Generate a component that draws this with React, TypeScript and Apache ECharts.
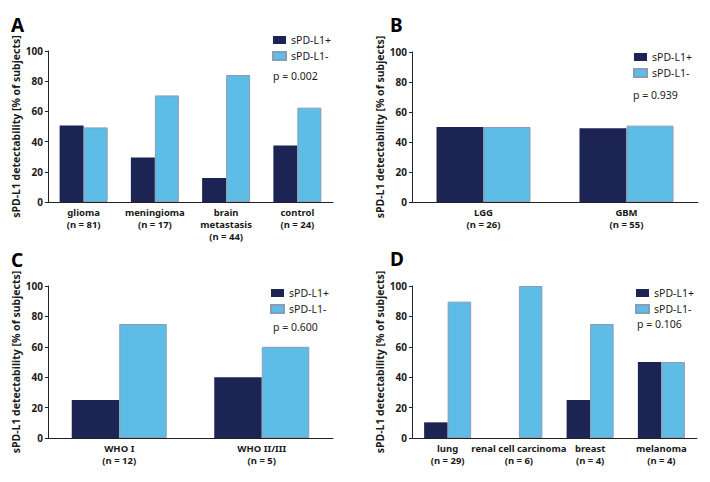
import React, { useEffect, useRef } from "react";
import * as echarts from "echarts";

const seriesNames = ["sPD-L1+", "sPD-L1-"];
const yTicks = { min: 0, max: 100, interval: 20 };
const yAxisTitle = "sPD-L1 detectability [% of subjects]";

const categoriesA = ["glioma\n(n = 81)", "meningioma\n(n = 17)", "brain\nmetastasis\n(n = 44)", "control\n(n = 24)"];
const posA = [50.6, 29.4, 15.9, 37.5];
const negA = [49.4, 70.6, 84.1, 62.5];
const pA = "p = 0.002";

const categoriesB = ["LGG\n(n = 26)", "GBM\n(n = 55)"];
const posB = [50, 49.1];
const negB = [50, 50.9];
const pB = "p = 0.939";

const categoriesC = ["WHO I\n(n = 12)", "WHO II/III\n(n = 5)"];
const posC = [25, 40];
const negC = [75, 60];
const pC = "p = 0.600";

const categoriesD = ["lung\n(n = 29)", "renal cell carcinoma\n(n = 6)", "breast\n(n = 4)", "melanoma\n(n = 4)"];
const posD = [10.3, 0, 25, 50];
const negD = [89.7, 100, 75, 50];
const pD = "p = 0.106";

const DARK = "#1b2452";
const LIGHT = "#5dbde6";
const FONT = "Noto Sans";

const panels = [
  { letter: "A", cats: categoriesA, pos: posA, neg: negA, p: pA, grid: { left: 48, top: 51, width: 285, height: 151 }, bw: 24,
    letterPos: [11, 27], legend: { left: 272, top: 34 }, pPos: [273, 77] },
  { letter: "B", cats: categoriesB, pos: posB, neg: negB, p: pB, grid: { left: 412, top: 52, width: 286, height: 150 }, bw: 47,
    letterPos: [390, 27], legend: { left: 633, top: 51 }, pPos: [633, 96] },
  { letter: "C", cats: categoriesC, pos: posC, neg: negC, p: pC, grid: { left: 48, top: 286, width: 285, height: 152 }, bw: 47.5,
    letterPos: [11, 262], legend: { left: 270, top: 287 }, pPos: [273, 328] },
  { letter: "D", cats: categoriesD, pos: posD, neg: negD, p: pD, grid: { left: 412, top: 286, width: 285, height: 152 }, bw: 23.5,
    letterPos: [390, 261], legend: { left: 635, top: 287 }, pPos: [637, 325] },
];

export default function App() {
  const ref = useRef<HTMLDivElement>(null);
  useEffect(() => {
    document.body.style.margin = "0";
    const chart = echarts.init(ref.current!, null, { renderer: "svg" });
    const grid: any[] = [];
    const xAxis: any[] = [];
    const yAxis: any[] = [];
    const series: any[] = [];
    const legend: any[] = [];
    const graphic: any[] = [];
    panels.forEach((pn, i) => {
      grid.push({ ...pn.grid, containLabel: false });
      xAxis.push({
        type: "category", gridIndex: i, data: pn.cats,
        axisLine: { lineStyle: { color: "#222", width: 1 } },
        axisTick: { show: false },
        axisLabel: { color: "#1a1a1a", fontFamily: FONT, fontWeight: "bold", fontSize: 9.5, lineHeight: 12, margin: 4, interval: 0 },
      });
      yAxis.push({
        type: "value", gridIndex: i, min: yTicks.min, max: yTicks.max, interval: yTicks.interval,
        name: yAxisTitle, nameLocation: "middle", nameGap: 26, nameRotate: 90,
        nameTextStyle: { color: "#1a1a1a", fontFamily: FONT, fontWeight: "bold", fontSize: 10.5 },
        axisLine: { show: true, lineStyle: { color: "#222", width: 1 } },
        axisTick: { show: true, length: 3, lineStyle: { color: "#222" } },
        splitLine: { show: false },
        axisLabel: { color: "#1a1a1a", fontFamily: FONT, fontWeight: "bold", fontSize: 10, margin: 5 },
      });
      series.push({
        type: "bar", name: seriesNames[0], xAxisIndex: i, yAxisIndex: i, data: pn.pos, barWidth: pn.bw, barGap: "0%",
        itemStyle: { color: DARK, borderWidth: 0 },
      });
      series.push({
        type: "bar", name: seriesNames[1], xAxisIndex: i, yAxisIndex: i, data: pn.neg, barWidth: pn.bw, barGap: "0%",
        itemStyle: { color: LIGHT, borderColor: "#8a9cb4", borderWidth: 1 },
      });
      legend.push({
        data: seriesNames, orient: "vertical", left: pn.legend.left, top: pn.legend.top, padding: 0,
        icon: "rect", itemWidth: 13, itemHeight: 8, itemGap: 4, selectedMode: false,
        textStyle: { color: "#1a1a1a", fontFamily: FONT, fontSize: 10.5, lineHeight: 12 },
      });
      graphic.push({
        type: "text", left: pn.letterPos[0], top: pn.letterPos[1] - 12,
        style: { text: pn.letter, fontFamily: FONT, fontWeight: "bold", fontSize: 19, fill: "#000" },
      });
      graphic.push({
        type: "text", left: pn.pPos[0], top: pn.pPos[1] - 7,
        style: { text: pn.p, fontFamily: FONT, fontSize: 10.5, fill: "#1a1a1a" },
      });
    });
    chart.setOption({
      animation: false,
      backgroundColor: "#fff",
      grid, xAxis, yAxis, series, legend, graphic,
    });
    return () => chart.dispose();
  }, []);
  return <div ref={ref} style={{ width: 710, height: 482 }} />;
}
